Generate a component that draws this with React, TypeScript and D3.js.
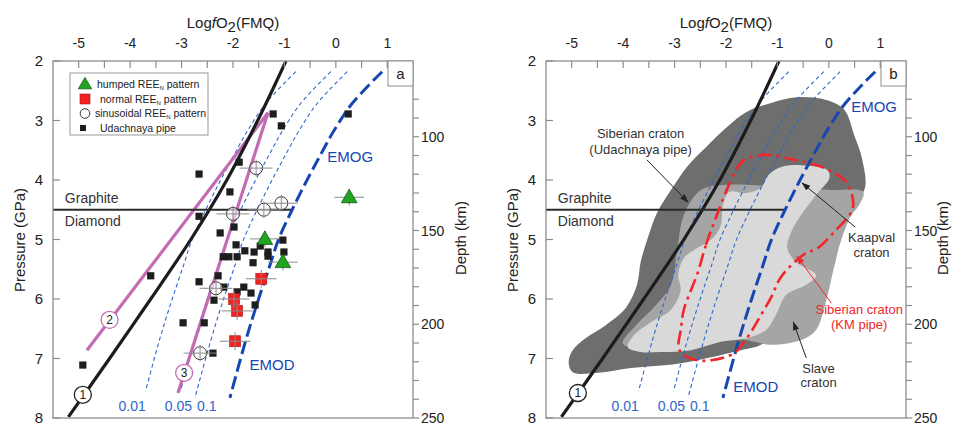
import React from "react";
import * as d3 from "d3";

const W = 954;
const H = 425;
const FONT = "'Liberation Sans', Arial, Helvetica, sans-serif";

// axes
const fo2Ticks = [-5, -4, -3, -2, -1, 0, 1];
const fo2Minor = [-5, -4.5, -4, -3.5, -3, -2.5, -2, -1.5, -1, -0.5, 0, 0.5, 1];
const pressureTicks = [2, 3, 4, 5, 6, 7, 8];
const depthTicks = [80, 90, 100, 110, 120, 130, 140, 150, 160, 170, 180, 190, 200, 210, 220, 230, 240, 250];
const depthLabels = [100, 150, 200, 250];

// curve 1 (black), pressure (GPa) vs logfO2
const curve1P = [2.0, 3.0, 4.0, 5.0, 6.0, 7.0, 7.98];
const curve1F = [-0.97, -1.52, -2.12, -2.82, -3.6, -4.4, -5.2];
// curves 2 and 3 (pink)
const curve2P = [2.87, 6.86];
const curve2F = [-1.32, -4.84];
const curve3P = [2.87, 7.58];
const curve3F = [-1.32, -3.07];

// EMOG / EMOD buffer
const emodP = [2.18, 2.71, 3.19, 3.58, 4.0, 4.5, 5.01, 5.43, 6.02, 6.69, 7.66];
const emodF = [0.9, 0.32, -0.05, -0.3, -0.56, -0.85, -1.12, -1.28, -1.51, -1.75, -2.06];
// carbonate-in-melt isopleths
const iso001P = [2.18, 2.71, 3.19, 3.58, 4.0, 4.5, 5.01, 5.43, 6.02, 6.69, 7.55];
const iso001F = [-0.78, -1.36, -1.73, -1.98, -2.24, -2.53, -2.8, -2.96, -3.19, -3.43, -3.7];
const iso005P = [2.18, 2.71, 3.19, 3.58, 4.0, 4.5, 5.01, 5.43, 6.02, 6.69, 7.55];
const iso005F = [-0.1, -0.68, -1.05, -1.3, -1.56, -1.85, -2.12, -2.28, -2.51, -2.75, -3.02];
const iso01P = [2.18, 2.71, 3.19, 3.58, 4.0, 4.5, 5.01, 5.43, 6.02, 6.69, 7.66];
const iso01F = [0.22, -0.36, -0.73, -0.98, -1.24, -1.53, -1.8, -1.96, -2.19, -2.43, -2.74];

// graphite / diamond transition
const gdP = 4.5;
const gdF = [-5.5, -0.86];

// samples, panel a
const udachP = [2.89, 3.09, 2.89, 3.7, 3.9, 4.2, 4.61, 4.89, 4.79, 5.09, 5.19, 5.21, 5.11, 5.21, 5.01, 5.21, 5.29, 5.29, 5.29, 5.39, 5.28, 5.61, 5.71, 5.61, 5.8, 5.8, 5.9, 5.88, 6.02, 6.1, 6.4, 6.4, 6.91, 7.11];
const udachF = [-1.22, -1.06, 0.24, -1.88, -2.66, -2.06, -2.66, -2.25, -1.98, -1.94, -1.77, -1.59, -1.47, -1.32, -1.03, -1.01, -2.19, -2.08, -1.92, -1.61, -1.32, -3.6, -2.66, -2.29, -2.18, -1.79, -1.65, -1.92, -2.37, -1.57, -2.97, -2.56, -2.39, -4.92];
const sinusP = [3.8, 4.39, 4.57, 4.5, 5.82, 6.91];
const sinusF = [-1.55, -1.06, -2.0, -1.4, -2.33, -2.64];
const humpedP = [4.29, 4.99, 5.38];
const humpedF = [0.26, -1.38, -1.03];
const normalP = [5.66, 6.0, 6.2, 6.71];
const normalF = [-1.45, -1.98, -1.92, -1.96];

// craton fields, panel b
const siberiaF = [-5.06, -4.98, -4.73, -4.34, -3.95, -3.73, -3.66, -3.52, -3.34, -3.07, -2.76, -2.39, -1.98, -1.61, -1.14, -0.62, -0.03, 0.3, 0.49, 0.65, 0.69, 0.24, -0.15, -1.32, -1.71, -2.88, -3.85, -4.49, -4.98];
const siberiaP = [7.06, 6.86, 6.66, 6.44, 6.15, 5.76, 5.38, 4.97, 4.55, 4.17, 3.78, 3.45, 3.11, 2.86, 2.71, 2.61, 2.66, 2.82, 3.24, 3.66, 4.17, 4.59, 6.02, 6.77, 6.86, 7.08, 7.16, 7.24, 7.23];
const slaveF = [-2.95, -2.82, -2.49, -1.98, -0.73, 0.05, 0.67, 0.59, 0.44, 0.24, 0.09, -0.05, -0.25, -0.54, -1.12, -1.61, -2.49, -3.27, -3.85, -4.01, -3.75, -3.36, -3.07];
const slaveP = [5.18, 4.59, 4.17, 4.08, 4.13, 4.17, 4.2, 4.42, 4.59, 5.01, 5.51, 6.02, 6.52, 6.69, 6.77, 6.69, 6.61, 6.69, 6.81, 6.74, 6.44, 6.1, 5.76];
const kaapvalF = [-3.91, -3.79, -3.46, -3.07, -2.88, -2.93, -2.82, -2.55, -2.25, -2.1, -2.06, -1.94, -1.61, -1.32, -1.18, -0.93, -0.54, -0.03, 0.01, -0.25, -0.54, -0.73, -0.81, -0.64, -0.25, -0.44, -0.83, -1.03, -1.22, -1.61, -2.1, -2.68, -3.27, -3.66];
const kaapvalP = [6.81, 6.61, 6.39, 6.18, 5.85, 5.6, 5.31, 5.14, 4.97, 4.76, 4.42, 4.2, 4.22, 4.13, 3.92, 3.78, 3.75, 3.83, 3.97, 4.25, 4.59, 4.87, 5.14, 5.38, 5.6, 5.76, 5.93, 6.27, 6.52, 6.66, 6.72, 6.86, 6.89, 6.89];
const kmPipeF = [-2.55, -2.39, -2.16, -1.9, -1.71, -1.51, -1.14, -0.68, -0.42, -0.03, 0.3, 0.44, 0.47, 0.4, 0.14, -0.21, -0.5, -0.93, -1.12, -1.32, -1.51, -1.65, -1.84, -2.29, -2.55, -2.82, -2.92, -2.88, -2.82, -2.68];
const kmPipeP = [5.56, 5.09, 4.55, 4.0, 3.71, 3.61, 3.58, 3.66, 3.71, 3.82, 4.0, 4.22, 4.45, 4.59, 4.84, 5.14, 5.26, 5.63, 5.97, 6.27, 6.55, 6.72, 6.91, 7.03, 7.03, 6.94, 6.82, 6.52, 6.18, 5.85];

const BLUE = "#1646b0";
const THIN_BLUE = "#2f66cc";
const PINK = "#c36cb4";
const RED = "#f2262a";
const AXIS = "#8c8c8c";

const yP = d3.scaleLinear().domain([2, 8]).range([61, 418]);
const yD = d3.scaleLinear().domain([59.6, 250]).range([61, 418]);

type Pt = [number, number];
const pts = (F: number[], P: number[]): Pt[] => F.map((f, i) => [f, P[i]] as Pt);

function Panel({ tag }: { tag: "a" | "b" }) {
  const x0 = tag === "a" ? 53 : 546;
  const x1 = x0 + 360;
  const x = d3.scaleLinear().domain([-5.5, 1.5]).range([x0, x1]);
  const gen = d3
    .line<Pt>()
    .x((d) => x(d[0]))
    .y((d) => yP(d[1]));
  const smooth = (F: number[], P: number[]) => gen.curve(d3.curveCatmullRom.alpha(0.5))(pts(F, P)) || "";
  const straight = (F: number[], P: number[]) => gen.curve(d3.curveLinear)(pts(F, P)) || "";
  const closed = (F: number[], P: number[]) => gen.curve(d3.curveCatmullRomClosed.alpha(0.5))(pts(F, P)) || "";
  const clipId = `clip-${tag}`;
  // right title of panel b sits at the page edge; keep it just inside
  const depthTitleX = Math.min(x1 + 53, W - 6);

  const errBar = (f: number, p: number, df: number, dp: number, key: string) => (
    <g key={key} stroke="#8a8a8a" strokeWidth={1}>
      <line x1={x(f - df)} x2={x(f + df)} y1={yP(p)} y2={yP(p)} />
      <line x1={x(f)} x2={x(f)} y1={yP(p - dp)} y2={yP(p + dp)} />
    </g>
  );

  const numberCircle = (f: number, p: number, label: string, color: string) => (
    <g key={label}>
      <circle cx={x(f)} cy={yP(p)} r={8.5} fill="white" stroke={color} strokeWidth={1.3} />
      <text x={x(f)} y={yP(p)} dy="0.36em" textAnchor="middle" fontSize={12} fill="#222">
        {label}
      </text>
    </g>
  );

  return (
    <g fontFamily={FONT}>
      <defs>
        <clipPath id={clipId}>
          <rect x={x0} y={61} width={360} height={357} />
        </clipPath>
      </defs>
      <rect x={x0} y={61} width={360} height={357} fill="white" />

      <g clipPath={`url(#${clipId})`}>
        {tag === "b" && (
          <g>
            <path d={closed(siberiaF, siberiaP)} fill="#6e6e6e" />
            <path d={closed(slaveF, slaveP)} fill="#a5a5a5" />
            <path d={closed(kaapvalF, kaapvalP)} fill="#d9d9d9" />
          </g>
        )}
        {/* isopleths */}
        {[
          [iso001F, iso001P],
          [iso005F, iso005P],
          [iso01F, iso01P],
        ].map(([F, P], i) => (
          <path key={i} d={smooth(F, P)} fill="none" stroke={THIN_BLUE} strokeWidth={1.1} strokeDasharray="4,3" />
        ))}
        {tag === "a" && (
          <g stroke={PINK} strokeWidth={3.2} fill="none">
            <path d={straight(curve2F, curve2P)} />
            <path d={straight(curve3F, curve3P)} />
          </g>
        )}
        <path d={smooth(curve1F, curve1P)} fill="none" stroke="#1c1c1c" strokeWidth={3.2} />
        <line x1={x(gdF[0])} x2={x(gdF[1])} y1={yP(gdP)} y2={yP(gdP)} stroke="#2a2a2a" strokeWidth={2} />
        <path d={smooth(emodF, emodP)} fill="none" stroke={BLUE} strokeWidth={3} strokeDasharray="13,5" />
        {tag === "b" && (
          <path d={closed(kmPipeF, kmPipeP)} fill="none" stroke={RED} strokeWidth={2.6} strokeDasharray="14,5,3,5" />
        )}
      </g>

      {/* graphite / diamond labels */}
      <text x={x(-5.27)} y={yP(gdP) - 7} fontSize={14} fill="#333">
        Graphite
      </text>
      <text x={x(-5.27)} y={yP(gdP) + 16} fontSize={14} fill="#333">
        Diamond
      </text>

      {/* EMOG / EMOD and isopleth labels */}
      <g fill={BLUE} fontSize={15} textAnchor="middle">
        <text x={tag === "a" ? x(0.28) : x(0.88)} y={tag === "a" ? yP(3.61) : yP(2.77)} dy="0.36em">
          EMOG
        </text>
        <text x={tag === "a" ? x(-1.24) : x(-1.42)} y={tag === "a" ? yP(7.11) : yP(7.48)} dy="0.36em">
          EMOD
        </text>
      </g>
      <g fill={THIN_BLUE} fontSize={14} textAnchor="middle">
        <text x={x(-3.96)} y={411}>0.01</text>
        <text x={x(-3.06)} y={411}>0.05</text>
        <text x={x(-2.51)} y={411}>0.1</text>
      </g>

      {tag === "a" && (
        <g>
          {humpedF.map((f, i) => errBar(f, humpedP[i], 0.29, 0.14, `he${i}`))}
          {udachF.map((f, i) => (
            <rect key={`u${i}`} x={x(f) - 3.6} y={yP(udachP[i]) - 3.6} width={7.2} height={7.2} fill="#1e1e1e" />
          ))}
          {humpedF.map((f, i) => (
            <path
              key={`h${i}`}
              transform={`translate(${x(f)},${yP(humpedP[i]) + 1})`}
              d={d3.symbol(d3.symbolTriangle, 105)() || ""}
              fill="#1fa51f"
              stroke="#155515"
              strokeWidth={0.8}
            />
          ))}
          {normalF.map((f, i) => (
            <rect
              key={`n${i}`}
              x={x(f) - 5.5}
              y={yP(normalP[i]) - 5.5}
              width={11}
              height={11}
              fill="#f22222"
              stroke="#b01010"
              strokeWidth={0.6}
            />
          ))}
          {normalF.map((f, i) => errBar(f, normalP[i], 0.3, 0.15, `ne${i}`))}
          {sinusF.map((f, i) => (
            <circle key={`s${i}`} cx={x(f)} cy={yP(sinusP[i])} r={6.5} fill="white" fillOpacity={0.6} stroke="#333" strokeWidth={1} />
          ))}
          {sinusF.map((f, i) => errBar(f, sinusP[i], 0.32, 0.14, `se${i}`))}

          {numberCircle(-4.4, 6.35, "2", PINK)}
          {numberCircle(-2.95, 7.24, "3", PINK)}
        </g>
      )}
      {numberCircle(tag === "a" ? -4.92 : -4.88, tag === "a" ? 7.61 : 7.58, "1", "#222")}

      {tag === "a" && (
        <g fontSize={10.5} fill="#222">
          <rect x={70} y={73} width={138} height={62} fill="white" stroke="#999" strokeWidth={1} />
          <path transform="translate(85,85)" d={d3.symbol(d3.symbolTriangle, 75)() || ""} fill="#1fa51f" stroke="#155515" strokeWidth={0.8} />
          <rect x={80} y={94} width={10} height={10} fill="#f22222" stroke="#b01010" strokeWidth={0.6} />
          <circle cx={85} cy={113.5} r={4.8} fill="white" stroke="#333" strokeWidth={1} />
          <rect x={80} y={125} width={6} height={6} fill="#1e1e1e" />
          <text x={97} y={88}>
            humped REE<tspan fontSize={6} dy={2}>N</tspan>
            <tspan dy={-2}> pattern</tspan>
          </text>
          <text x={100} y={103}>
            normal REE<tspan fontSize={6} dy={2}>N</tspan>
            <tspan dy={-2}> pattern</tspan>
          </text>
          <text x={95} y={117}>
            sinusoidal REE<tspan fontSize={6} dy={2}>N</tspan>
            <tspan dy={-2}> pattern</tspan>
          </text>
          <text x={100} y={132}>Udachnaya pipe</text>
        </g>
      )}

      {tag === "b" && (
        <g fontSize={13} textAnchor="middle">
          <defs>
            <marker id="arrK" viewBox="0 0 10 10" refX={9} refY={5} markerWidth={9} markerHeight={9} orient="auto">
              <path d="M0,1.5 L10,5 L0,8.5 Z" fill="#222" />
            </marker>
            <marker id="arrR" viewBox="0 0 10 10" refX={9} refY={5} markerWidth={9} markerHeight={9} orient="auto">
              <path d="M0,1.5 L10,5 L0,8.5 Z" fill={RED} />
            </marker>
          </defs>
          <g fill="#333">
            <text x={x(-3.66)} y={yP(3.21)} dy="0.36em">Siberian craton</text>
            <text x={x(-3.66)} y={yP(3.49)} dy="0.36em">(Udachnaya pipe)</text>
            <text x={x(0.83)} y={yP(4.96)} dy="0.36em">Kaapval</text>
            <text x={x(0.83)} y={yP(5.21)} dy="0.36em">craton</text>
            <text x={x(-0.2)} y={yP(7.16)} dy="0.36em">Slave</text>
            <text x={x(-0.2)} y={yP(7.4)} dy="0.36em">craton</text>
          </g>
          <g fill={RED}>
            <text x={x(0.59)} y={yP(6.18)} dy="0.36em">Siberian craton</text>
            <text x={x(0.59)} y={yP(6.42)} dy="0.36em">(KM pipe)</text>
          </g>
          <g stroke="#222" strokeWidth={1} markerEnd="url(#arrK)">
            <line x1={x(-3.54)} y1={yP(3.66)} x2={x(-2.74)} y2={yP(4.37)} />
            <line x1={x(0.51)} y1={yP(4.79)} x2={x(-0.52)} y2={yP(4.05)} />
            <line x1={x(-0.44)} y1={yP(6.99)} x2={x(-0.69)} y2={yP(6.39)} />
          </g>
          <line x1={x(0.05)} y1={yP(6.07)} x2={x(-0.62)} y2={yP(5.28)} stroke={RED} strokeWidth={1} markerEnd="url(#arrR)" />
        </g>
      )}

      {/* frame and axes */}
      <rect x={x0} y={61} width={360} height={357} fill="none" stroke={AXIS} strokeWidth={1.3} />
      <g stroke={AXIS} strokeWidth={1.2}>
        {fo2Minor.map((t) => (
          <line key={`t${t}`} x1={x(t)} x2={x(t)} y1={61} y2={68} />
        ))}
        {pressureTicks.map((t) => (
          <line key={`p${t}`} x1={x0} x2={x0 + 7} y1={yP(t)} y2={yP(t)} />
        ))}
        {depthTicks.map((t) => (
          <line key={`d${t}`} x1={x1} x2={x1 + 6} y1={yD(t)} y2={yD(t)} />
        ))}
      </g>
      <g fontSize={14} fill="#222" textAnchor="middle">
        {fo2Ticks.map((t) => (
          <text key={`tl${t}`} x={x(t)} y={48}>
            {t}
          </text>
        ))}
      </g>
      <g fontSize={15} fill="#222" textAnchor="end">
        {pressureTicks.map((t) => (
          <text key={`pl${t}`} x={x0 - 10} y={yP(t)} dy="0.36em">
            {t}
          </text>
        ))}
      </g>
      <g fontSize={14} fill="#222">
        {depthLabels.map((t) => (
          <text key={`dl${t}`} x={x1 + 8} y={yD(t)} dy="0.36em">
            {t}
          </text>
        ))}
      </g>
      <text x={x(-2)} y={28} fontSize={15} textAnchor="middle" fill="#222">
        Log<tspan fontStyle="italic">f</tspan>O<tspan dy={4}>2</tspan>
        <tspan dy={-4}>(FMQ)</tspan>
      </text>
      <text transform={`translate(${x0 - 28},240) rotate(-90)`} fontSize={15} textAnchor="middle" fill="#222">
        Pressure (GPa)
      </text>
      <text transform={`translate(${depthTitleX},238) rotate(-90)`} fontSize={15} textAnchor="middle" fill="#222">
        Depth (km)
      </text>

      <rect x={x1 - 25} y={61} width={25} height={25} fill="white" stroke={AXIS} strokeWidth={1} />
      <text x={x1 - 12.5} y={73.5} dy="0.36em" fontSize={15} textAnchor="middle" fill="#222">
        {tag}
      </text>
    </g>
  );
}

export default function App() {
  return (
    <svg
      width={W}
      height={H}
      viewBox={`0 0 ${W} ${H}`}
      style={{ position: "absolute", left: 0, top: 0, background: "white" }}
    >
      <rect width={W} height={H} fill="white" />
      <Panel tag="a" />
      <Panel tag="b" />
    </svg>
  );
}
